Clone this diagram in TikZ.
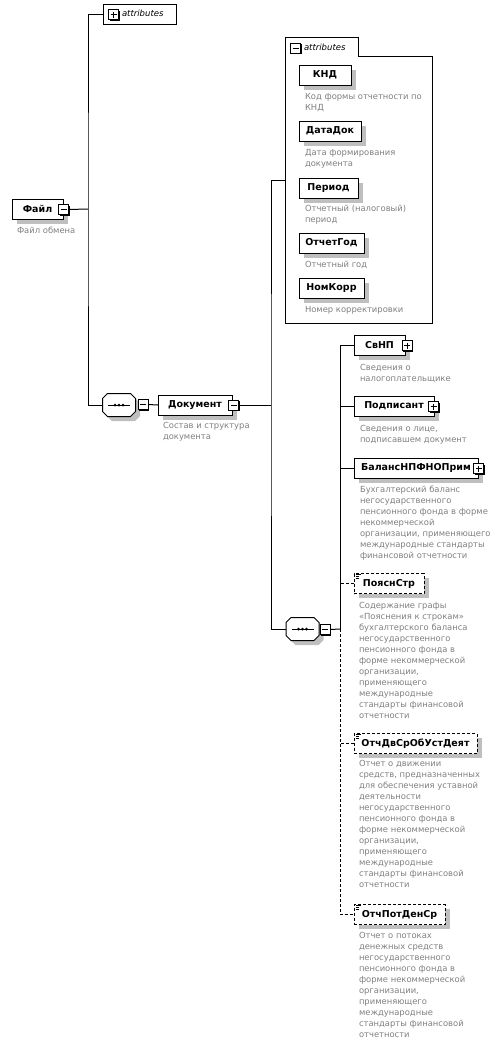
\documentclass[tikz,border=0pt]{standalone}
\usepackage{fontspec}
\setmainfont{DejaVu Sans}
\usetikzlibrary{shadows}
\newcommand\namefont{\bfseries\fontsize{9.5}{11}\selectfont}
\newcommand\descfont{\fontsize{8.4}{11}\selectfont}
\newcommand\attrfont{\itshape\fontsize{8.5}{11}\selectfont}
\newcommand\seqdraw[1]{%
  \begin{scope}[shift={(#1.center)}]
    \fill[black!25] (-7,-7) -- (16,-7) -- (21,-2) -- (21,11) -- (16,16) -- (-7,16) -- (-12,11) -- (-12,-2) -- cycle;
    \draw[line width=1pt, fill=white] (-11.5,-11.5) -- (11.5,-11.5) -- (16.5,-6.5) -- (16.5,6.5) -- (11.5,11.5) -- (-11.5,11.5) -- (-16.5,6.5) -- (-16.5,-6.5) -- cycle;
    \draw[line width=1pt] (-11,0) -- (11,0);
    \foreach \dx in {-4,0,4} \fill (\dx,0) circle (1.5);
  \end{scope}}
\newcommand\optmark[1]{%
  \draw[line width=0.7pt] ([xshift=1.5pt,yshift=-1pt]#1.north west) -- ++(5,0)
    ([xshift=1.5pt,yshift=-2.8pt]#1.north west) -- ++(3.5,0)
    ([xshift=1.5pt,yshift=-4.6pt]#1.north west) -- ++(3.5,0);}
\begin{document}
\begin{tikzpicture}[x=1pt,y=-1pt,
  every node/.style={inner sep=0pt, outer sep=0pt},
  conn/.style={line width=1pt},
  dconn/.style={line width=1pt, dash pattern=on 3pt off 2pt},
  elem/.style={draw, fill=white, line width=1pt, minimum height=20pt, font=\namefont,
    drop shadow={shadow xshift=4.5pt, shadow yshift=-4.5pt, fill=black!25, opacity=1}},
  optelem/.style={elem, dash pattern=on 3pt off 2pt},
  desc/.style={anchor=north west, align=left, font=\descfont, text=black!50},
  iconbox/.style={draw, fill=white, line width=1pt, minimum size=10pt,
    drop shadow={shadow xshift=1pt, shadow yshift=-1pt, fill=black, opacity=1}},
  iconminus/.style={iconbox, path picture={\draw[line width=1pt]
    ([xshift=2pt]path picture bounding box.west) -- ([xshift=-2pt]path picture bounding box.east);}},
  iconplus/.style={iconbox, path picture={\draw[line width=1pt]
    ([xshift=2pt]path picture bounding box.west) -- ([xshift=-2pt]path picture bounding box.east)
    ([yshift=-2pt]path picture bounding box.north) -- ([yshift=2pt]path picture bounding box.south);}},
  seqnode/.style={minimum width=33pt, minimum height=23pt},
  attrbox/.style={draw, fill=white, line width=1pt, minimum height=20pt}
]
\useasboundingbox (0,0) rectangle (498,1042);

% ---------- top-level attributes (collapsed)
\node[attrbox, minimum width=73pt] (attr1) at (139.5,14) {};
\node[iconplus] (attr1i) at (113.5,14.5) {};
\node[anchor=west, font=\attrfont] (attr1t) at (122,13.5) {attributes};

% ---------- root element
\node[elem, minimum width=51pt] (file) at (37.5,209) {Файл\hspace{6pt}};
\node[iconminus] (filei) at (63.5,209.5) {};
\node[desc] (filed) at (17,226.5) {Файл обмена};
\coordinate (j1) at (88,209);

% ---------- first sequence + Документ
\node[seqnode] (seq1) at (119,405) {};
\seqdraw{seq1}
\node[iconminus] (seq1i) at (143,404.5) {};
\node[elem, minimum width=74pt] (doc) at (195,405) {Документ\hspace{5pt}};
\node[iconminus] (doci) at (233.5,405) {};
\node[desc] (docd) at (163,422.5) {Состав и структура\\документа};
\coordinate (j2) at (271,405);

% ---------- expanded attributes group
\node[minimum width=147pt, minimum height=286pt] (attrgrp) at (358.5,180) {};
\draw[line width=1pt, fill=white] (285,37) -- (358,37) -- (358,56) -- (432,56) -- (432,323) -- (285,323) -- cycle;
\node[iconminus] (attrgrpi) at (295.5,48) {};
\node[anchor=west, font=\attrfont] (attrgrpt) at (304,47) {attributes};

\node[elem, minimum width=52pt] (knd) at (325,75) {КНД};
\node[desc] (kndd) at (305,93.5) {Код формы отчетности по\\КНД};
\node[elem, minimum width=62pt] (datadok) at (330,131) {ДатаДок};
\node[desc] (datadokd) at (305,149.5) {Дата формирования\\документа};
\node[elem, minimum width=59pt] (period) at (328.5,188) {Период};
\node[desc] (periodd) at (305,205.5) {Отчетный (налоговый)\\период};
\node[elem, minimum width=65pt] (otchgod) at (331.5,243) {ОтчетГод};
\node[desc] (otchgodd) at (305,261.5) {Отчетный год};
\node[elem, minimum width=65pt] (nomkorr) at (331.5,288) {НомКорр};
\node[desc] (nomkorrd) at (305,306) {Номер корректировки};

% ---------- second sequence
\node[seqnode] (seq2) at (302.5,629) {};
\seqdraw{seq2}
\node[iconminus] (seq2i) at (325,629.5) {};
\coordinate (j3) at (340,629);

% ---------- children of the sequence
\node[elem, minimum width=51pt] (svnp) at (379.5,345) {СвНП\hspace{4pt}};
\node[iconplus] (svnpi) at (407,345.5) {};
\node[desc] (svnpd) at (360,364) {Сведения о\\налогоплательщике};

\node[elem, minimum width=80pt] (podp) at (394,406) {Подписант\hspace{4pt}};
\node[iconplus] (podpi) at (433.5,406.5) {};
\node[desc] (podpd) at (360,425.5) {Сведения о лице,\\подписавшем документ};

\node[elem, minimum width=124pt] (balans) at (416,468) {БалансНПФНОПрим\hspace{4pt}};
\node[iconplus] (balansi) at (478.5,468.5) {};
\node[desc] (balansd) at (360,485.5) {Бухгалтерский баланс\\негосударственного\\пенсионного фонда в форме\\некоммерческой\\организации, применяющего\\международные стандарты\\финансовой отчетности};

\node[optelem, minimum width=70pt] (poyasn) at (389,583.5) {ПояснСтр};
\optmark{poyasn}
\node[desc] (poyasnd) at (359,602.5) {Содержание графы\\«Пояснения к строкам»\\бухгалтерского баланса\\негосударственного\\пенсионного фонда в\\форме некоммерческой\\организации,\\применяющего\\международные\\стандарты финансовой\\отчетности};

\node[optelem, minimum width=123pt] (otchdv) at (415.5,743.5) {ОтчДвСрОбУстДеят};
\optmark{otchdv}
\node[desc] (otchdvd) at (359,760.5) {Отчет о движении\\средств, предназначенных\\для обеспечения уставной\\деятельности\\негосударственного\\пенсионного фонда в\\форме некоммерческой\\организации,\\применяющего\\международные\\стандарты финансовой\\отчетности};

\node[optelem, minimum width=91pt] (otchpot) at (399.5,914.5) {ОтчПотДенСр};
\optmark{otchpot}
\node[desc] (otchpotd) at (359,932.5) {Отчет о потоках\\денежных средств\\негосударственного\\пенсионного фонда в\\форме некоммерческой\\организации,\\применяющего\\международные\\стандарты финансовой\\отчетности};

% ---------- connectors
\draw[conn] (filei.east) -- (j1);
\draw[conn] (attr1.west) -| (j1) |- (seq1.west);
\draw[conn] (seq1i.east) -- (doc.west);
\draw[conn] (doci.east) -- (j2);
\draw[conn] (attrgrp.west) -| (j2) |- (seq2.west);
\draw[conn] (seq2i.east) -- (j3);
\draw[conn] (svnp.west) -| (j3);
\draw[conn] (podp.west) -- (podp.west -| j3);
\draw[conn] (balans.west) -- (balans.west -| j3);
\draw[dconn] (poyasn.west) -- (poyasn.west -| j3);
\draw[dconn] (otchdv.west) -- (otchdv.west -| j3);
\draw[dconn] (j3) |- (otchpot.west);
\end{tikzpicture}
\end{document}
